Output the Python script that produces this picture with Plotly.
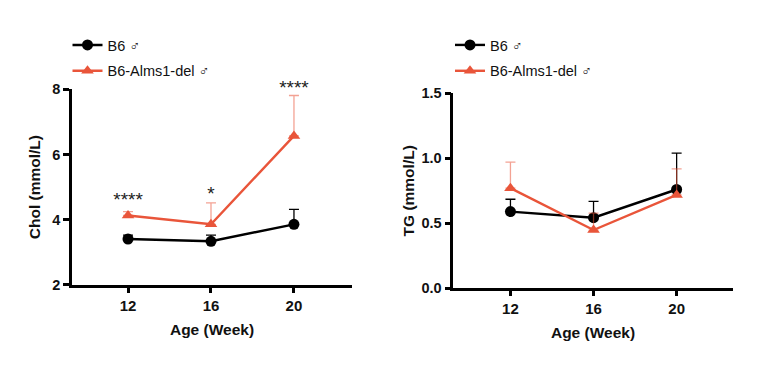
import plotly.graph_objects as go

weeks = [12, 16, 20]
series_names = ["B6 ♂", "B6-Alms1-del ♂"]

chol_b6 = [3.41, 3.34, 3.86]
chol_b6_err = [0.12, 0.19, 0.46]
chol_ko = [4.13, 3.86, 6.57]
chol_ko_err = [0.12, 0.66, 1.24]

tg_b6 = [0.59, 0.543, 0.76]
tg_b6_err = [0.095, 0.125, 0.28]
tg_ko = [0.77, 0.448, 0.718]
tg_ko_err = [0.20, 0.13, 0.20]

sig_weeks = [12, 16, 20]
sig_y = [4.58, 4.74, 8.0]
sig_text = ["****", "*", "****"]

BLACK = "#000000"
RED = "#E9553A"
RED_ERR = "rgba(233,85,58,0.55)"
FONT = "Liberation Sans, Arial, sans-serif"

fig = go.Figure()

def add_series(x, y, err, name, color, errcolor, symbol, xa, ya, legend):
    fig.add_trace(go.Scatter(
        x=x, y=y, name=name, mode="lines+markers",
        xaxis=xa, yaxis=ya, legend=legend,
        line=dict(color=color, width=2.4),
        marker=dict(symbol=symbol, size=11, color=color),
        error_y=dict(type="data", array=err, arrayminus=[0] * len(err),
                     symmetric=False, color=errcolor, thickness=1.3, width=5),
        legendgroup=name + legend,
        cliponaxis=False,
    ))

add_series(weeks, chol_b6, chol_b6_err, series_names[0], BLACK, BLACK, "circle", "x", "y", "legend")
add_series(weeks, chol_ko, chol_ko_err, series_names[1], RED, RED_ERR, "triangle-up", "x", "y", "legend")
add_series(weeks, tg_b6, tg_b6_err, series_names[0], BLACK, BLACK, "circle", "x2", "y2", "legend2")
add_series(weeks, tg_ko, tg_ko_err, series_names[1], RED, RED_ERR, "triangle-up", "x2", "y2", "legend2")

fig.add_trace(go.Scatter(
    x=sig_weeks, y=sig_y, text=sig_text, mode="text", showlegend=False,
    textfont=dict(family=FONT, size=19, color="#222"), cliponaxis=False,
    xaxis="x", yaxis="y", hoverinfo="skip",
))

title_font = dict(family=FONT, size=15.5, color="#111", weight="bold")
axis_common = dict(
    showgrid=False, zeroline=False, showline=True, linecolor="black", linewidth=2.5,
    ticks="outside", tickwidth=2.5, tickcolor="black",
    automargin=True,
)
xtick = dict(ticklen=5, tickfont=dict(family=FONT, size=15, color="#111", weight="bold"))
ytick = dict(ticklen=6, tickfont=dict(family=FONT, size=14.5, color="#111", weight="bold"))

fig.update_layout(
    width=778, height=371,
    margin=dict(l=0, r=0, t=0, b=0, autoexpand=False),
    paper_bgcolor="white", plot_bgcolor="white",
    showlegend=True,
    xaxis=dict(domain=[0.0823, 0.4422], range=[9.3, 22.8], tickvals=weeks, anchor="y",
               title=dict(text="Age (Week)", font=title_font, standoff=12),
               **axis_common, **xtick),
    yaxis=dict(domain=[0.2534, 0.7809], range=[2, 8], tickvals=[2, 4, 6, 8], anchor="x",
               title=dict(text="Chol (mmol/L)", font=title_font, standoff=8),
               **axis_common, **ytick),
    xaxis2=dict(domain=[0.5724, 0.9315], range=[9.25, 22.7], tickvals=weeks, anchor="y2",
                title=dict(text="Age (Week)", font=title_font, standoff=12),
                **axis_common, **xtick),
    yaxis2=dict(domain=[0.2445, 0.7701], range=[0, 1.5], tickvals=[0, 0.5, 1.0, 1.5], tickformat=".1f", anchor="x2",
                title=dict(text="TG (mmol/L)", font=title_font, standoff=4),
                **axis_common, **ytick),
    legend=dict(x=59.5 / 778, y=1 - 21 / 371, xanchor="left", yanchor="top",
                font=dict(family=FONT, size=14.5, color="#111"), bgcolor="rgba(0,0,0,0)",
                tracegroupgap=4, traceorder="grouped"),
    legend2=dict(x=442 / 778, y=1 - 21 / 371, xanchor="left", yanchor="top",
                 font=dict(family=FONT, size=14.5, color="#111"), bgcolor="rgba(0,0,0,0)",
                 tracegroupgap=4, traceorder="grouped"),
)

fig.write_html("out.html")
